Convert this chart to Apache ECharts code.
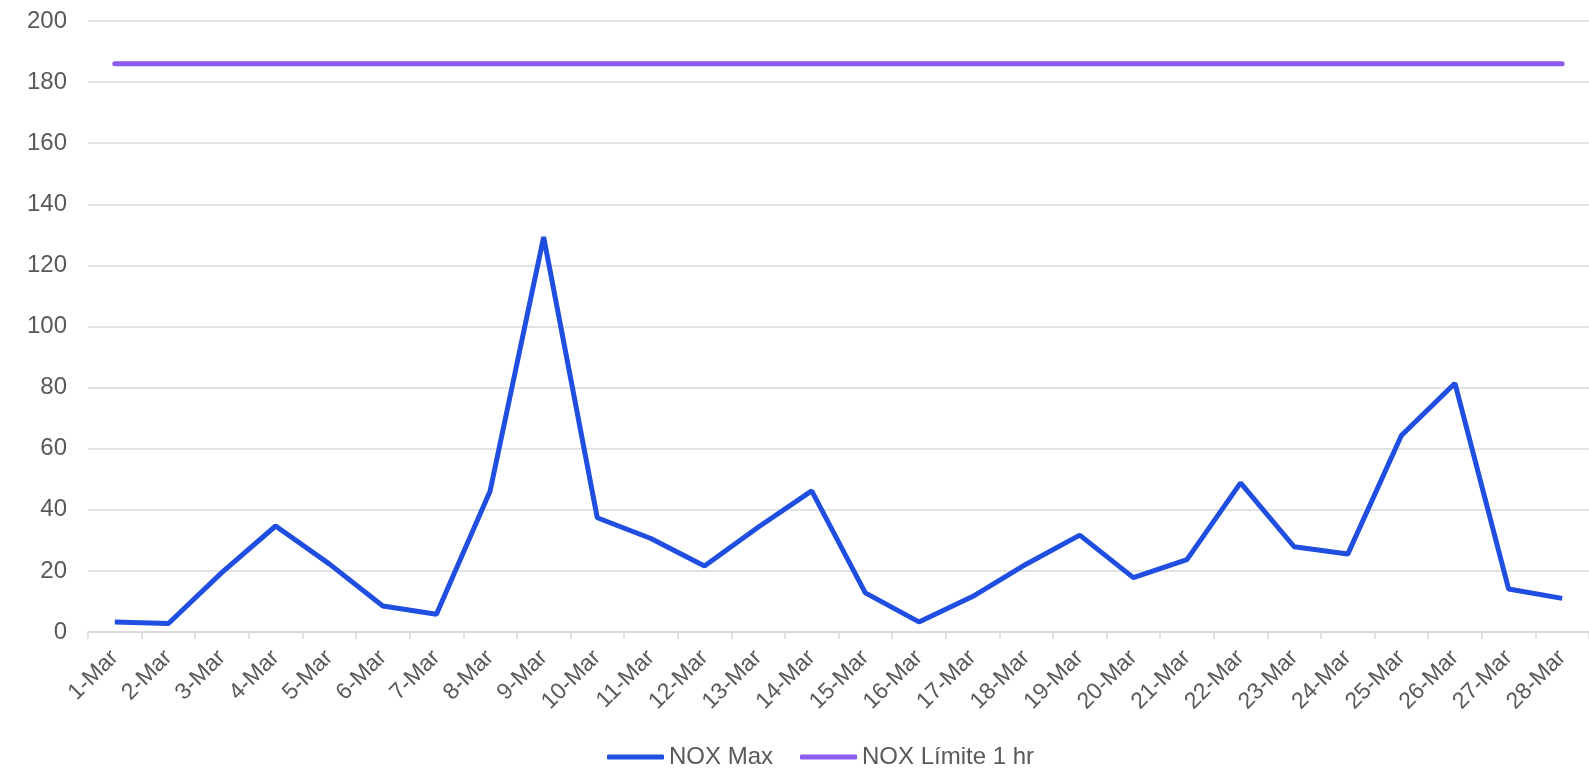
<!DOCTYPE html>
<html>
<head>
<meta charset="utf-8">
<script src="https://cdn.jsdelivr.net/npm/echarts@6/dist/echarts.min.js"></script>
<style>
html,body{margin:0;padding:0;background:#fff;}
#nox{width:1589px;height:778px;}
</style>
</head>
<body>
<div id="nox"></div>
<script>
// datos del mes
var dias = ['1-Mar','2-Mar','3-Mar','4-Mar','5-Mar','6-Mar','7-Mar','8-Mar','9-Mar','10-Mar',
    '11-Mar','12-Mar','13-Mar','14-Mar','15-Mar','16-Mar','17-Mar','18-Mar','19-Mar','20-Mar',
    '21-Mar','22-Mar','23-Mar','24-Mar','25-Mar','26-Mar','27-Mar','28-Mar'];
var noxMax = [3.3, 2.8, 19.5, 34.7, 22.3, 8.5, 5.8, 46.1, 129.3, 37.4,
    30.6, 21.6, 34.3, 46.2, 12.8, 3.3, 11.6, 22.2, 31.7, 17.8,
    23.7, 48.8, 27.9, 25.5, 64.3, 81.4, 14.1, 11.0];
var limite = 186;
var noxLimite = dias.map(function(){ return limite; });

var nox = echarts.init(document.getElementById('nox'));
var txt = '#595959';
var fuente = 'Liberation Sans';
var option_nox = {
    animation: false,
    grid: { left: 88, right: -5, top: 21, bottom: 146 },
    legend: {
        data: ['NOX Max', 'NOX Límite 1 hr'],
        left: 607, top: 745, padding: 0,
        icon: 'roundRect',
        itemWidth: 57, itemHeight: 5, itemGap: 27,
        textStyle: { color: txt, fontSize: 24, fontFamily: fuente }
    },
    xAxis: {
        type: 'category',
        data: dias,
        boundaryGap: true,
        axisLine: { lineStyle: { color: '#d9d9d9', width: 1.5 } },
        axisTick: { show: true, length: 7, lineStyle: { color: '#d9d9d9', width: 1.5 } },
        axisLabel: { rotate: 45, interval: 0, color: txt, fontSize: 23, fontFamily: fuente, margin: 22 }
    },
    yAxis: {
        type: 'value',
        min: 0, max: 200, interval: 20,
        axisLine: { show: false },
        axisTick: { show: false },
        splitLine: { lineStyle: { color: '#d9d9d9', width: 1.5 } },
        axisLabel: { color: txt, fontSize: 24, fontFamily: fuente, margin: 21 }
    },
    series: [
        {
            name: 'NOX Max',
            type: 'line',
            data: noxMax,
            showSymbol: false,
            lineStyle: { color: '#1f4ee0', width: 5 },
            itemStyle: { color: '#1f4ee0' }
        },
        {
            name: 'NOX Límite 1 hr',
            type: 'line',
            data: noxLimite,
            showSymbol: false,
            lineStyle: { color: '#8b5cf0', width: 5, cap: 'round' },
            itemStyle: { color: '#8b5cf0' }
        }
    ]
};
nox.setOption(option_nox);
</script>
</body>
</html>
